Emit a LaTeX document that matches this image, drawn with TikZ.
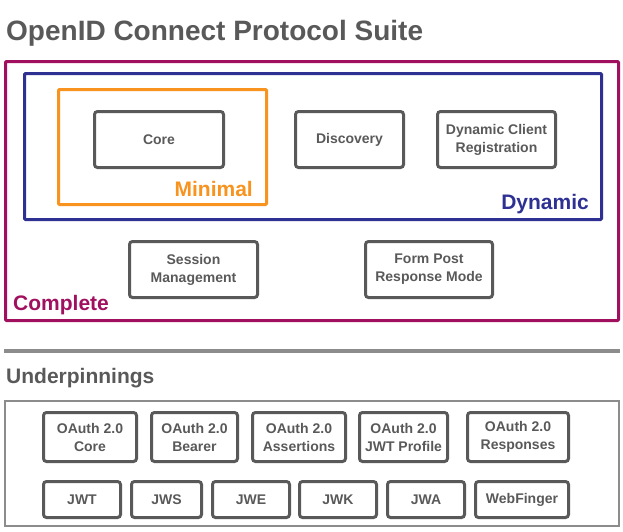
\documentclass[tikz,border=0pt]{standalone}
\usepackage{fontspec}
\setmainfont{Liberation Sans}
\usepackage{xcolor}
\usetikzlibrary{positioning}

\definecolor{txtgray}{HTML}{595959}
\definecolor{linegray}{HTML}{8C8C8C}
\definecolor{completec}{HTML}{A1105F}
\definecolor{dynamicc}{HTML}{2E3192}
\definecolor{minimalc}{HTML}{F7931E}

\begin{document}
\begin{tikzpicture}[
  x=1pt, y=-1pt,
  box/.style={draw=txtgray, line width=3pt, rounded corners=3pt, align=center,
              text=txtgray, font=\fontsize{14}{18}\selectfont\bfseries,
              inner sep=0pt},
  frame/.style={line width=3pt, rounded corners=1pt},
  lbl/.style={font=\fontsize{21}{24}\selectfont\bfseries, inner sep=0pt},
  head/.style={font=\fontsize{21}{24}\selectfont\bfseries, text=txtgray, inner sep=0pt}]

  \useasboundingbox (0,0) rectangle (623,531);

  % title
  \node[head, font=\fontsize{28}{32}\selectfont\bfseries, anchor=base west]
       (title) at (6,40) {OpenID Connect Protocol Suite};

  % nested profiles
  \draw[frame, completec] (5.5,61.5) rectangle (618.5,320.5);
  \draw[frame, dynamicc] (24.5,73.5) rectangle (601.5,219.5);
  \draw[frame, minimalc] (58.5,89.5) rectangle (266.5,204.5);

  \node[box, minimum width=129pt, minimum height=56pt] (core) at (159,139.5) {Core};
  \node[box, minimum width=108pt, minimum height=56pt] (discovery) at (349.5,139.5) {Discovery};
  \node[box, minimum width=118pt, minimum height=56pt] (dcr) at (496.5,139.5)
       {Dynamic Client\\Registration};
  \node[box, minimum width=128pt, minimum height=56pt] (session) at (193.5,269.5)
       {Session\\Management};
  \node[box, minimum width=127pt, minimum height=56pt] (formpost) at (429,269.5)
       {Form Post\\Response Mode};

  \node[lbl, text=minimalc, anchor=base east] (minimal) at (253,196) {Minimal};
  \node[lbl, text=dynamicc, anchor=base east] (dynamic) at (589,209) {Dynamic};
  \node[lbl, text=completec, anchor=base west] (complete) at (13,310) {Complete};

  % underpinnings
  \draw[linegray, line width=4pt] (4,351) -- (620,351);
  \node[head, anchor=base west] (under) at (6,383) {Underpinnings};
  \draw[linegray, line width=2.5pt] (5,401) rectangle (619,526);

  \node[box, minimum width=93pt, minimum height=49pt] (oacore) at (90,437) {OAuth 2.0\\Core};
  \node[box, minimum width=86pt, minimum height=49pt] (bearer) at (194.5,437) {OAuth 2.0\\Bearer};
  \node[box, minimum width=93pt, minimum height=49pt] (assert) at (299,437) {OAuth 2.0\\Assertions};
  \node[box, minimum width=88pt, minimum height=49pt] (jwtprof) at (403.5,437) {OAuth 2.0\\JWT Profile};
  \node[box, minimum width=101pt, minimum height=49pt] (resp) at (518,437) {OAuth 2.0\\Responses};

  \node[box, minimum width=77pt, minimum height=36pt] (jwt) at (82,499.5) {JWT};
  \node[box, minimum width=70pt, minimum height=36pt] (jws) at (166.5,499.5) {JWS};
  \node[box, minimum width=77pt, minimum height=36pt] (jwe) at (251,499.5) {JWE};
  \node[box, minimum width=77pt, minimum height=36pt] (jwk) at (338,499.5) {JWK};
  \node[box, minimum width=77pt, minimum height=36pt] (jwa) at (426,499.5) {JWA};
  \node[box, minimum width=93pt, minimum height=36pt] (webfinger) at (522,499.5) {WebFinger};
\end{tikzpicture}
\end{document}
